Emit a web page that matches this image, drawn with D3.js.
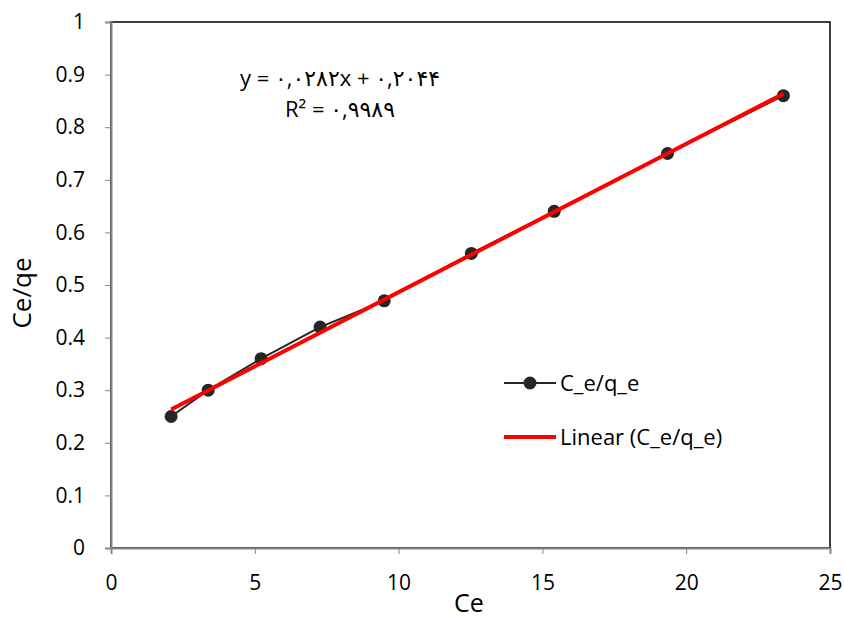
<!DOCTYPE html>
<html>
<head>
<meta charset="utf-8">
<script src="https://cdn.jsdelivr.net/npm/d3@7"></script>
<style>
  body { margin: 0; background: #fff; }
  text { font-family: "Open Sans", "DejaVu Sans", sans-serif; }
</style>
</head>
<body>
<div class="chart"></div>
<script>
// data
const ceValues = [2.09, 3.38, 5.22, 7.27, 9.5, 12.53, 15.41, 19.35, 23.38];
const ratioValues = [0.25, 0.30, 0.36, 0.42, 0.47, 0.56, 0.64, 0.75, 0.86];
const trendCoef = [0.0282, 0.2044]; // slope, intercept
const xTicks = [0, 5, 10, 15, 20, 25];
const yTicks = [0, 0.1, 0.2, 0.3, 0.4, 0.5, 0.6, 0.7, 0.8, 0.9, 1];
const eqLabels = ["y = ۰,۰۲۸۲x + ۰,۲۰۴۴", "R² = ۰,۹۹۸۹"];
const legendLabels = ["C_e/q_e", "Linear (C_e/q_e)"];

const data = ceValues.map((d, i) => ({ x: d, y: ratioValues[i] }));

const W = 844, H = 619;
const margin = { top: 22, left: 111, bottom: 71, right: 14 };
const width = W - margin.left - margin.right;
const height = H - margin.top - margin.bottom;

const svg = d3.select(".chart").append("svg")
  .attr("width", W)
  .attr("height", H);

const g = svg.append("g")
  .attr("transform", `translate(${margin.left},${margin.top})`);

const xScale = d3.scaleLinear().domain([0, 25]).range([0, width]);
const yScale = d3.scaleLinear().domain([0, 1]).range([height, 0]);

// plot area border
g.append("rect")
  .attr("width", width)
  .attr("height", height)
  .attr("fill", "none")
  .attr("stroke", "black")
  .attr("stroke-width", 1.5);

const xAxis = d3.axisBottom(xScale)
  .tickValues(xTicks)
  .tickSize(6)
  .tickPadding(21)
  .tickFormat(d3.format("d"));

const yAxis = d3.axisLeft(yScale)
  .tickValues(yTicks)
  .tickSize(6)
  .tickPadding(20)
  .tickFormat(d => d === 0 || d === 1 ? d : d3.format(".1f")(d));

g.append("g")
  .attr("transform", `translate(0,${height})`)
  .call(xAxis)
  .call(a => a.select(".domain").attr("stroke", "#868686").attr("stroke-width", 2))
  .call(a => a.selectAll(".tick line").attr("stroke", "#868686"))
  .call(a => a.selectAll(".tick text")
    .attr("font-size", 21)
    .attr("fill", "black"));

g.append("g")
  .call(yAxis)
  .call(a => a.select(".domain").attr("stroke", "#868686").attr("stroke-width", 2))
  .call(a => a.selectAll(".tick line").attr("stroke", "#868686"))
  .call(a => a.selectAll(".tick text")
    .attr("font-size", 21)
    .attr("fill", "black"));

// axis titles
svg.append("text")
  .attr("x", 469)
  .attr("y", 612)
  .attr("text-anchor", "middle")
  .attr("font-size", 25)
  .text("Ce");

svg.append("text")
  .attr("transform", "translate(31,293) rotate(-90)")
  .attr("text-anchor", "middle")
  .attr("font-size", 26)
  .text("Ce/qe");

// data series
const line = d3.line()
  .x(d => xScale(d.x))
  .y(d => yScale(d.y));

g.append("path")
  .datum(data)
  .attr("fill", "none")
  .attr("stroke", "#262626")
  .attr("stroke-width", 2)
  .attr("d", line);

g.selectAll(".pt")
  .data(data)
  .enter()
  .append("circle")
  .attr("cx", d => xScale(d.x))
  .attr("cy", d => yScale(d.y))
  .attr("r", 6.5)
  .attr("fill", "#262626");

// linear trendline
const xExt = d3.extent(ceValues);
const trend = xExt.map(x => ({ x: x, y: trendCoef[0] * x + trendCoef[1] }));

g.append("path")
  .datum(trend)
  .attr("fill", "none")
  .attr("stroke", "#ff0000")
  .attr("stroke-width", 4)
  .attr("d", line);

// equation
svg.selectAll(".eq")
  .data(eqLabels)
  .enter()
  .append("text")
  .attr("x", 340)
  .attr("y", (d, i) => 86 + i * 31)
  .attr("text-anchor", "middle")
  .attr("direction", "ltr")
  .attr("font-size", 22)
  .text(d => d);

// legend
const leg = svg.append("g").attr("transform", "translate(504,383)");

leg.append("line")
  .attr("x1", 0).attr("x2", 52)
  .attr("stroke", "#262626").attr("stroke-width", 2);
leg.append("circle")
  .attr("cx", 26).attr("r", 6.5).attr("fill", "#262626");
leg.append("line")
  .attr("x1", 0).attr("x2", 52)
  .attr("y1", 54).attr("y2", 54)
  .attr("stroke", "#ff0000").attr("stroke-width", 4);

leg.selectAll(".lt")
  .data(legendLabels)
  .enter()
  .append("text")
  .attr("x", 56)
  .attr("y", (d, i) => i * 54)
  .attr("dy", "0.35em")
  .attr("font-size", 22)
  .text(d => d);
</script>
</body>
</html>
